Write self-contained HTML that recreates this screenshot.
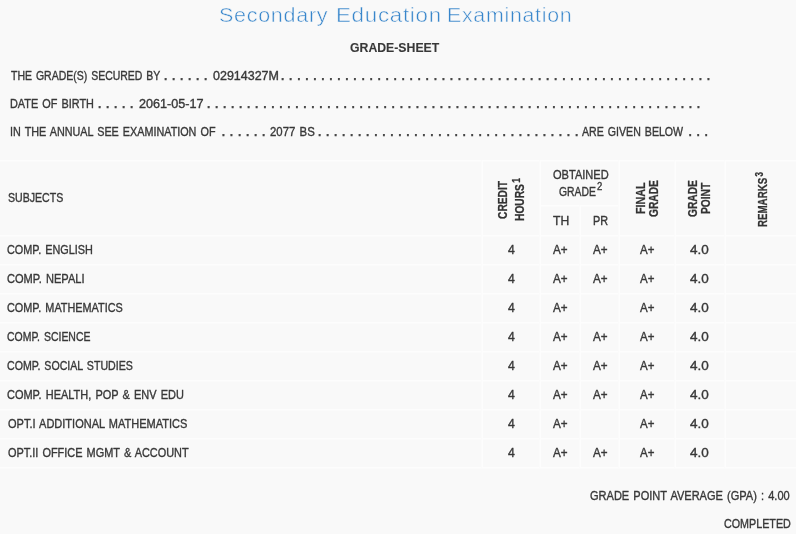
<!DOCTYPE html>
<html lang="en">
<head>
<meta charset="utf-8">
<title>Secondary Education Examination - Grade-Sheet</title>
<style>
html,body{margin:0;padding:0}
body{width:796px;height:534px;overflow:hidden;position:relative;background:#f9f9f9;color:#383838;font-family:"Liberation Sans","DejaVu Sans",sans-serif;font-size:12px;line-height:14px}
.t{position:absolute;white-space:pre;transform-origin:0 0;font-size:12px;line-height:14px;font-weight:normal;margin:0;-webkit-text-stroke:0.35px currentColor;word-spacing:1.2px}
.d{word-spacing:0;font-weight:bold;-webkit-text-stroke:0.25px currentColor;color:#444}
.b{font-weight:bold;-webkit-text-stroke:0.1px currentColor}
.v{color:#333;-webkit-text-stroke:0.25px currentColor}
.v sup{font-size:10px;line-height:0;vertical-align:4.5px;margin-left:1.5px}
.hl,.vl{position:absolute;background:#fdfdfd}
.hl{box-shadow:0 1px 0 #fbfbfb}.vl{box-shadow:-1px 0 0 #fbfbfb}
.hl{height:1px}.vl{width:1px}
sup.s2{position:absolute;font-size:9px;line-height:10px}
</style>
</head>
<body>
<i class="hl" style="left:0px;top:160px;width:796px"></i>
<i class="hl" style="left:540px;top:205px;width:79px"></i>
<i class="hl" style="left:0px;top:235px;width:796px"></i>
<i class="hl" style="left:0px;top:264px;width:796px"></i>
<i class="hl" style="left:0px;top:293px;width:796px"></i>
<i class="hl" style="left:0px;top:322px;width:796px"></i>
<i class="hl" style="left:0px;top:351px;width:796px"></i>
<i class="hl" style="left:0px;top:380px;width:796px"></i>
<i class="hl" style="left:0px;top:409px;width:796px"></i>
<i class="hl" style="left:0px;top:438px;width:796px"></i>
<i class="hl" style="left:0px;top:467px;width:796px"></i>
<i class="vl" style="left:482px;top:160px;height:308px"></i>
<i class="vl" style="left:540px;top:160px;height:308px"></i>
<i class="vl" style="left:619px;top:160px;height:308px"></i>
<i class="vl" style="left:675px;top:160px;height:308px"></i>
<i class="vl" style="left:725px;top:160px;height:308px"></i>
<i class="vl" style="left:580px;top:205px;height:263px"></i>
<span class="t" style="left:219.08px;top:2.82px;transform:scaleX(1.0238);font-size:21px;line-height:24px;word-spacing:2.1px;color:#3886cb;letter-spacing:0.7px;-webkit-text-stroke:0.5px #f9f9f9;">Secondary</span>
<span class="t" style="left:335.80px;top:2.82px;transform:scaleX(1.0612);font-size:21px;line-height:24px;word-spacing:2.1px;color:#3886cb;letter-spacing:0.7px;-webkit-text-stroke:0.5px #f9f9f9;">Education</span>
<span class="t" style="left:446.57px;top:2.82px;transform:scaleX(1.0169);font-size:21px;line-height:24px;word-spacing:2.1px;color:#3886cb;letter-spacing:0.7px;-webkit-text-stroke:0.5px #f9f9f9;">Examination</span>
<span class="t b" style="left:349.79px;top:40.84px;transform:scaleX(1.0217);">GRADE-SHEET</span>
<span class="t" style="left:10.83px;top:68.74px;transform:scaleX(0.8736);">THE GRADE(S) SECURED BY</span>
<span class="t" style="left:212.58px;top:68.74px;transform:scaleX(1.0404);">02914327M</span>
<span class="t" style="left:10.18px;top:96.64px;transform:scaleX(0.9057);">DATE OF BIRTH</span>
<span class="t" style="left:138.62px;top:96.64px;transform:scaleX(1.0505);">2061-05-17</span>
<span class="t" style="left:10.01px;top:124.84px;transform:scaleX(0.8993);">IN THE ANNUAL SEE EXAMINATION OF</span>
<span class="t" style="left:270.03px;top:124.84px;transform:scaleX(0.9473);">2077 BS</span>
<span class="t" style="left:582.30px;top:124.84px;transform:scaleX(0.8837);">ARE GIVEN BELOW</span>
<span class="t" style="left:7.56px;top:190.74px;transform:scaleX(0.8821);">SUBJECTS</span>
<span class="t" style="left:552.74px;top:167.84px;transform:scaleX(0.9211);">OBTAINED</span>
<span class="t" style="left:559.48px;top:184.74px;transform:scaleX(0.8636);">GRADE</span>
<span class="t" style="left:553.00px;top:213.54px;transform:scaleX(1.0115);">TH</span>
<span class="t" style="left:593.29px;top:213.54px;transform:scaleX(0.9017);">PR</span>
<span class="t" style="left:590.05px;top:488.54px;transform:scaleX(0.9185);">GRADE POINT AVERAGE (GPA) : 4.00</span>
<span class="t" style="left:723.86px;top:516.74px;transform:scaleX(0.8951);">COMPLETED</span>
<span class="t" style="left:7.46px;top:242.54px;transform:scaleX(0.9044);">COMP. ENGLISH</span>
<span class="t" style="left:508.10px;top:242.54px;transform:scaleX(1.0161);">4</span>
<span class="t" style="left:553.30px;top:242.54px;transform:scaleX(0.9722);">A+</span>
<span class="t" style="left:593.40px;top:242.54px;transform:scaleX(0.9722);">A+</span>
<span class="t" style="left:639.80px;top:242.54px;transform:scaleX(0.9584);">A+</span>
<span class="t" style="left:690.18px;top:242.54px;transform:scaleX(1.1237);">4.0</span>
<span class="t" style="left:7.45px;top:271.54px;transform:scaleX(0.9214);">COMP. NEPALI</span>
<span class="t" style="left:508.10px;top:271.54px;transform:scaleX(1.0161);">4</span>
<span class="t" style="left:553.30px;top:271.54px;transform:scaleX(0.9722);">A+</span>
<span class="t" style="left:593.40px;top:271.54px;transform:scaleX(0.9722);">A+</span>
<span class="t" style="left:639.80px;top:271.54px;transform:scaleX(0.9584);">A+</span>
<span class="t" style="left:690.18px;top:271.54px;transform:scaleX(1.1237);">4.0</span>
<span class="t" style="left:7.46px;top:300.54px;transform:scaleX(0.9056);">COMP. MATHEMATICS</span>
<span class="t" style="left:508.10px;top:300.54px;transform:scaleX(1.0161);">4</span>
<span class="t" style="left:553.30px;top:300.54px;transform:scaleX(0.9722);">A+</span>
<span class="t" style="left:639.80px;top:300.54px;transform:scaleX(0.9584);">A+</span>
<span class="t" style="left:690.18px;top:300.54px;transform:scaleX(1.1237);">4.0</span>
<span class="t" style="left:7.48px;top:329.54px;transform:scaleX(0.8725);">COMP. SCIENCE</span>
<span class="t" style="left:508.10px;top:329.54px;transform:scaleX(1.0161);">4</span>
<span class="t" style="left:553.30px;top:329.54px;transform:scaleX(0.9722);">A+</span>
<span class="t" style="left:593.40px;top:329.54px;transform:scaleX(0.9722);">A+</span>
<span class="t" style="left:639.80px;top:329.54px;transform:scaleX(0.9584);">A+</span>
<span class="t" style="left:690.18px;top:329.54px;transform:scaleX(1.1237);">4.0</span>
<span class="t" style="left:7.47px;top:358.54px;transform:scaleX(0.8831);">COMP. SOCIAL STUDIES</span>
<span class="t" style="left:508.10px;top:358.54px;transform:scaleX(1.0161);">4</span>
<span class="t" style="left:553.30px;top:358.54px;transform:scaleX(0.9722);">A+</span>
<span class="t" style="left:593.40px;top:358.54px;transform:scaleX(0.9722);">A+</span>
<span class="t" style="left:639.80px;top:358.54px;transform:scaleX(0.9584);">A+</span>
<span class="t" style="left:690.18px;top:358.54px;transform:scaleX(1.1237);">4.0</span>
<span class="t" style="left:7.45px;top:387.54px;transform:scaleX(0.9145);">COMP. HEALTH, POP &amp; ENV EDU</span>
<span class="t" style="left:508.10px;top:387.54px;transform:scaleX(1.0161);">4</span>
<span class="t" style="left:553.30px;top:387.54px;transform:scaleX(0.9722);">A+</span>
<span class="t" style="left:593.40px;top:387.54px;transform:scaleX(0.9722);">A+</span>
<span class="t" style="left:639.80px;top:387.54px;transform:scaleX(0.9584);">A+</span>
<span class="t" style="left:690.18px;top:387.54px;transform:scaleX(1.1237);">4.0</span>
<span class="t" style="left:7.54px;top:416.54px;transform:scaleX(0.9170);">OPT.I ADDITIONAL MATHEMATICS</span>
<span class="t" style="left:508.10px;top:416.54px;transform:scaleX(1.0161);">4</span>
<span class="t" style="left:553.30px;top:416.54px;transform:scaleX(0.9722);">A+</span>
<span class="t" style="left:639.80px;top:416.54px;transform:scaleX(0.9584);">A+</span>
<span class="t" style="left:690.18px;top:416.54px;transform:scaleX(1.1237);">4.0</span>
<span class="t" style="left:7.55px;top:445.54px;transform:scaleX(0.9097);">OPT.II OFFICE MGMT &amp; ACCOUNT</span>
<span class="t" style="left:508.10px;top:445.54px;transform:scaleX(1.0161);">4</span>
<span class="t" style="left:553.30px;top:445.54px;transform:scaleX(0.9722);">A+</span>
<span class="t" style="left:593.40px;top:445.54px;transform:scaleX(0.9722);">A+</span>
<span class="t" style="left:639.80px;top:445.54px;transform:scaleX(0.9584);">A+</span>
<span class="t" style="left:690.18px;top:445.54px;transform:scaleX(1.1237);">4.0</span>
<span class="t d" style="left:163.93px;top:68.84px;letter-spacing:0.681px">. . . . . .</span>
<span class="t d" style="left:281.08px;top:68.84px;letter-spacing:0.681px">. . . . . . . . . . . . . . . . . . . . . . . . . . . . . . . . . . . . . . . . . . . . . . . . . . . . . .</span>
<span class="t d" style="left:97.93px;top:96.64px;letter-spacing:0.681px">. . . . .</span>
<span class="t d" style="left:206.93px;top:96.64px;letter-spacing:0.681px">. . . . . . . . . . . . . . . . . . . . . . . . . . . . . . . . . . . . . . . . . . . . . . . . . . . . . . . . . . . . . .</span>
<span class="t d" style="left:221.83px;top:124.84px;letter-spacing:0.681px">. . . . . .</span>
<span class="t d" style="left:317.93px;top:124.84px;letter-spacing:0.681px">. . . . . . . . . . . . . . . . . . . . . . . . . . . . . . . . .</span>
<span class="t d" style="left:688.43px;top:124.84px;letter-spacing:0.681px">. . .</span>
<span class="t" style="left:596.6px;top:182.3px;font-size:10px;line-height:10px;transform:scaleX(0.95)">2</span>
<span class="t b v" style="left:495.74px;top:218.84px;transform:rotate(-90deg) scaleX(0.8522)">CREDIT</span>
<span class="t b v" style="left:512.74px;top:221.08px;transform:rotate(-90deg) scaleX(0.8521)">HOURS<sup>1</sup></span>
<span class="t b v" style="left:633.84px;top:213.92px;transform:rotate(-90deg) scaleX(0.8948)">FINAL</span>
<span class="t b v" style="left:647.34px;top:216.94px;transform:rotate(-90deg) scaleX(0.8511)">GRADE</span>
<span class="t b v" style="left:686.24px;top:216.94px;transform:rotate(-90deg) scaleX(0.8511)">GRADE</span>
<span class="t b v" style="left:699.44px;top:214.28px;transform:rotate(-90deg) scaleX(0.8511)">POINT</span>
<span class="t b v" style="left:755.94px;top:226.75px;transform:rotate(-90deg) scaleX(0.8106)">REMARKS<sup>3</sup></span>
</body>
</html>
